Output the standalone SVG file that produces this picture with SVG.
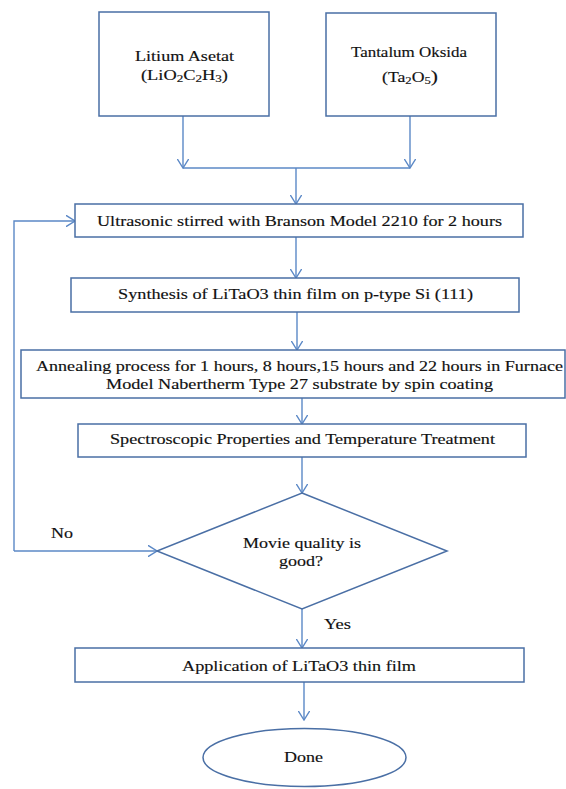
<svg xmlns="http://www.w3.org/2000/svg" width="566" height="789" viewBox="0 0 566 789" font-family="'Liberation Serif', 'DejaVu Serif', serif">
<style>
.box{fill:#fff;stroke:#4a6fa5;stroke-width:1.5}
.conn{fill:none;stroke:#5b88c6;stroke-width:1.4}
text{font-family:'Liberation Serif','DejaVu Serif',serif;font-size:15px;fill:#111;stroke:#111;stroke-width:0.15}
.sub{font-size:10px}
</style>
<defs>
<marker id="ah" viewBox="0 0 10 12" refX="9.5" refY="6" markerWidth="10" markerHeight="12" markerUnits="userSpaceOnUse" orient="auto">
<path d="M0,0 L9.5,6 L0,12" fill="none" stroke="#5b88c6" stroke-width="1.4"/>
</marker>
</defs>
<rect width="566" height="789" fill="#fff"/>
<g id="connectors">
<path class="conn" d="M183,116 V168" marker-end="url(#ah)"/>
<path class="conn" d="M410,116 V168" marker-end="url(#ah)"/>
<path class="conn" d="M183,168 H410"/>
<path class="conn" d="M296,168 V204" marker-end="url(#ah)"/>
<path class="conn" d="M296,237 V278" marker-end="url(#ah)"/>
<path class="conn" d="M297,312 V350" marker-end="url(#ah)"/>
<path class="conn" d="M302,398 V424" marker-end="url(#ah)"/>
<path class="conn" d="M302,457 V493" marker-end="url(#ah)"/>
<path class="conn" d="M14,551 H157" marker-end="url(#ah)"/>
<path class="conn" d="M14,551 V221 H75" marker-end="url(#ah)"/>
<path class="conn" d="M302,609 V648" marker-end="url(#ah)"/>
<path class="conn" d="M304,682 V720" marker-end="url(#ah)"/>
<text x="51" y="538" textLength="22" lengthAdjust="spacingAndGlyphs">No</text>
<text x="324" y="629" textLength="27" lengthAdjust="spacingAndGlyphs">Yes</text>
</g>
<g id="litium">
<rect class="box" x="99" y="12" width="170" height="104"/>
<text x="135" y="61" font-size="14" style="font-size:14px" textLength="99" lengthAdjust="spacingAndGlyphs">Litium Asetat</text>
<text x="141" y="80" style="font-size:14px" textLength="87" lengthAdjust="spacingAndGlyphs">(LiO<tspan class="sub" dy="2">2</tspan><tspan dy="-2">C</tspan><tspan class="sub" dy="2">2</tspan><tspan dy="-2">H</tspan><tspan class="sub" dy="2">3</tspan><tspan dy="-2">)</tspan></text>
</g>
<g id="tantalum">
<rect class="box" x="326" y="13" width="170" height="103"/>
<text x="351" y="57" style="font-size:14px" textLength="116" lengthAdjust="spacingAndGlyphs">Tantalum Oksida</text>
<text x="382" y="82" style="font-size:14px" textLength="56" lengthAdjust="spacingAndGlyphs">(Ta<tspan class="sub" dy="2">2</tspan><tspan dy="-2">O</tspan><tspan class="sub" dy="2">5</tspan><tspan dy="-2" style="font-size:17px">)</tspan></text>
</g>
<g id="ultrasonic">
<rect class="box" x="75" y="204" width="448" height="33"/>
<text x="97" y="226" textLength="405" lengthAdjust="spacingAndGlyphs">Ultrasonic stirred with Branson Model 2210 for 2 hours</text>
</g>
<g id="synthesis">
<rect class="box" x="71" y="278" width="448" height="34"/>
<text x="118" y="299" textLength="355" lengthAdjust="spacingAndGlyphs">Synthesis of LiTaO3 thin film on p-type Si (111)</text>
</g>
<g id="annealing">
<rect class="box" x="21" y="350" width="544" height="48"/>
<text x="36" y="371" textLength="527" lengthAdjust="spacingAndGlyphs">Annealing process for 1 hours, 8 hours,15 hours and 22 hours in Furnace</text>
<text x="106" y="389" textLength="387" lengthAdjust="spacingAndGlyphs">Model Nabertherm Type 27 substrate by spin coating</text>
</g>
<g id="spectroscopic">
<rect class="box" x="78" y="424" width="448" height="33"/>
<text x="110" y="444" textLength="385" lengthAdjust="spacingAndGlyphs">Spectroscopic Properties and Temperature Treatment</text>
</g>
<g id="decision">
<path class="box" d="M302,493 L447,551 L302,609 L157,551 Z"/>
<text x="243" y="548" textLength="118" lengthAdjust="spacingAndGlyphs">Movie quality is</text>
<text x="279" y="566" textLength="44" lengthAdjust="spacingAndGlyphs">good?</text>
</g>
<g id="application">
<rect class="box" x="75" y="648" width="449" height="34"/>
<text x="182" y="671" textLength="234" lengthAdjust="spacingAndGlyphs">Application of LiTaO3 thin film</text>
</g>
<g id="done">
<ellipse class="box" cx="304.5" cy="757.5" rx="101.5" ry="29"/>
<text x="284" y="762" textLength="39" lengthAdjust="spacingAndGlyphs">Done</text>
</g>
</svg>
